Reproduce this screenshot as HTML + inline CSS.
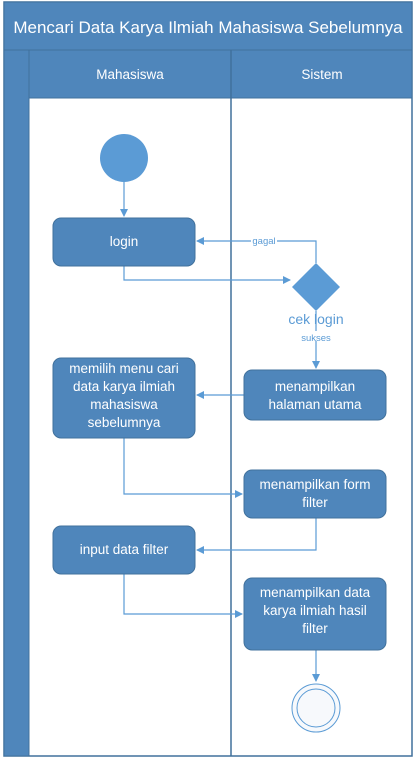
<!DOCTYPE html><html><head><style>body{margin:0;background:#fff;width:417px;height:765px;overflow:hidden}</style></head><body>
<svg width="417" height="765" xmlns="http://www.w3.org/2000/svg" font-family="Liberation Sans, sans-serif">
<defs><marker id="a" markerWidth="8" markerHeight="8" refX="7" refY="4" orient="auto" markerUnits="userSpaceOnUse"><path d="M0,0L8,4L0,8z" fill="#5b9bd5"/></marker></defs>
<rect x="4" y="2" width="408" height="754" fill="#fff" stroke="#41719c" stroke-width="1.5"/>
<rect x="4" y="2" width="408" height="48" fill="#4f86bb" stroke="#41719c"/>
<text x="208" y="33" fill="#fff" font-size="17" text-anchor="middle">Mencari Data Karya Ilmiah Mahasiswa Sebelumnya</text>
<rect x="4" y="50" width="25" height="706" fill="#4f86bb" stroke="#41719c"/>
<rect x="29" y="50" width="383" height="48" fill="#4f86bb" stroke="#41719c"/>
<line x1="231" y1="50" x2="231" y2="756" stroke="#41719c" stroke-width="1.5"/>
<text x="130" y="79" fill="#fff" font-size="13.5" text-anchor="middle">Mahasiswa</text>
<text x="322" y="79" fill="#fff" font-size="13.5" text-anchor="middle">Sistem</text>
<g stroke="#5b9bd5" stroke-width="1.2" fill="none">
<path d="M124 182V216" marker-end="url(#a)"/>
<path d="M124 266V280H290" marker-end="url(#a)"/>
<path d="M316 263V241H197" marker-end="url(#a)"/>
<path d="M316 311V368" marker-end="url(#a)"/>
<path d="M244 395H197" marker-end="url(#a)"/>
<path d="M124 438V494H242" marker-end="url(#a)"/>
<path d="M316 518V550H197" marker-end="url(#a)"/>
<path d="M124 574V614H242" marker-end="url(#a)"/>
<path d="M316 650V681" marker-end="url(#a)"/>
</g>
<rect x="251" y="236" width="26" height="10" fill="#fff"/>
<text x="264" y="244" fill="#5b9bd5" font-size="9.5" text-anchor="middle">gagal</text>
<rect x="299" y="331" width="34" height="10" fill="#fff"/>
<text x="316" y="341" fill="#5b9bd5" font-size="9.5" text-anchor="middle">sukses</text>
<circle cx="124" cy="158" r="24" fill="#5b9bd5"/>
<path d="M316 263L340 287L316 311L292 287z" fill="#5b9bd5"/>
<text x="316" y="324" fill="#5b9bd5" font-size="14" text-anchor="middle">cek login</text>
<g fill="#4f86bb" stroke="#41719c">
<rect x="53" y="218" width="142" height="48" rx="8"/>
<rect x="53" y="358" width="142" height="80" rx="8"/>
<rect x="244" y="370" width="142" height="50" rx="8"/>
<rect x="244" y="470" width="142" height="48" rx="8"/>
<rect x="53" y="526" width="142" height="48" rx="8"/>
<rect x="244" y="578" width="142" height="72" rx="8"/>
</g>
<g fill="#fff" font-size="13.5" text-anchor="middle">
<text x="124" y="246">login</text>
<text x="124" y="373">memilih menu cari</text><text x="124" y="391">data karya ilmiah</text><text x="124" y="409">mahasiswa</text><text x="124" y="427">sebelumnya</text>
<text x="315" y="391">menampilkan</text><text x="315" y="409">halaman utama</text>
<text x="315" y="489">menampilkan form</text><text x="315" y="507">filter</text>
<text x="124" y="554">input data filter</text>
<text x="315" y="597">menampilkan data</text><text x="315" y="615">karya ilmiah hasil</text><text x="315" y="633">filter</text>
</g>
<circle cx="316" cy="708" r="24" fill="#f7f9fc" stroke="#5b9bd5"/>
<circle cx="316" cy="708" r="19" fill="none" stroke="#5b9bd5"/>
</svg></body></html>
